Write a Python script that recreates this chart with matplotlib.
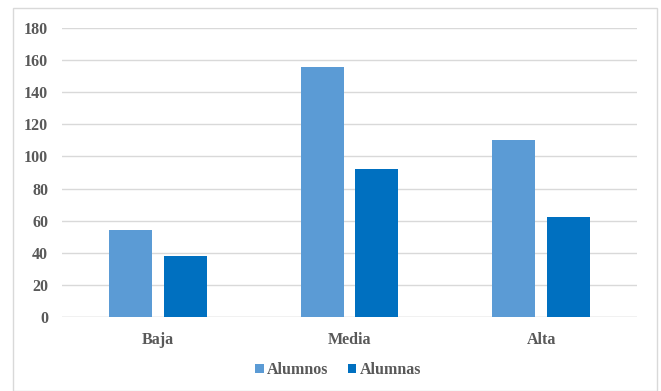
import numpy as np
import matplotlib
matplotlib.use("Agg")
from matplotlib import pyplot as plt
from matplotlib.patches import Rectangle

categorias = ["Baja", "Media", "Alta"]
alumnos = [54, 156, 110]
alumnas = [38, 92, 62]
yticks = [0, 20, 40, 60, 80, 100, 120, 140, 160, 180]

plt.rcParams['font.family'] = ['Liberation Serif', 'DejaVu Serif']
gris = '#595959'

fig = plt.figure(figsize=(6.61, 3.91), dpi=100)
ax = fig.add_axes([62/661, 1-317/391, (637-62)/661, (317-28)/391])

# marco exterior del grafico
fig.patches.append(Rectangle((13/661, 0), 644/661, 383/391, transform=fig.transFigure,
                             fill=False, edgecolor='#d9d9d9', linewidth=1))

x = np.arange(len(categorias))
ancho = 0.225
sep = 0.03
ax.bar(x - ancho/2 - sep, alumnos, ancho, color='#5b9bd5', label='Alumnos', zorder=3)
ax.bar(x + ancho/2 + sep, alumnas, ancho, color='#0070c0', label='Alumnas', zorder=3)

ax.set_xlim(-0.5, 2.5)
ax.set_ylim(0, 180)
ax.set_yticks(yticks)
ax.set_xticks(x)
ax.set_xticklabels(categorias)
for lab in ax.get_xticklabels() + ax.get_yticklabels():
    lab.set_fontweight('bold')
    lab.set_color(gris)
    lab.set_fontsize(11.5)
ax.tick_params(axis='both', length=0)
ax.tick_params(axis='y', pad=10)
ax.tick_params(axis='x', pad=11)
ax.grid(axis='y', color='#d9d9d9', linewidth=1, zorder=0)
for s in ax.spines.values():
    s.set_visible(False)
ax.axhline(0, color='#d9d9d9', linewidth=1, zorder=2)

leg = fig.legend(loc='center', bbox_to_anchor=(338/661, 1-370/391), ncol=2, frameon=False,
                 handlelength=0.55, handleheight=0.55, handletextpad=0.2, columnspacing=1.2,
                 prop={'weight': 'bold', 'size': 11.5})
for t in leg.get_texts():
    t.set_color(gris)

fig.savefig("out.png", dpi=100)
